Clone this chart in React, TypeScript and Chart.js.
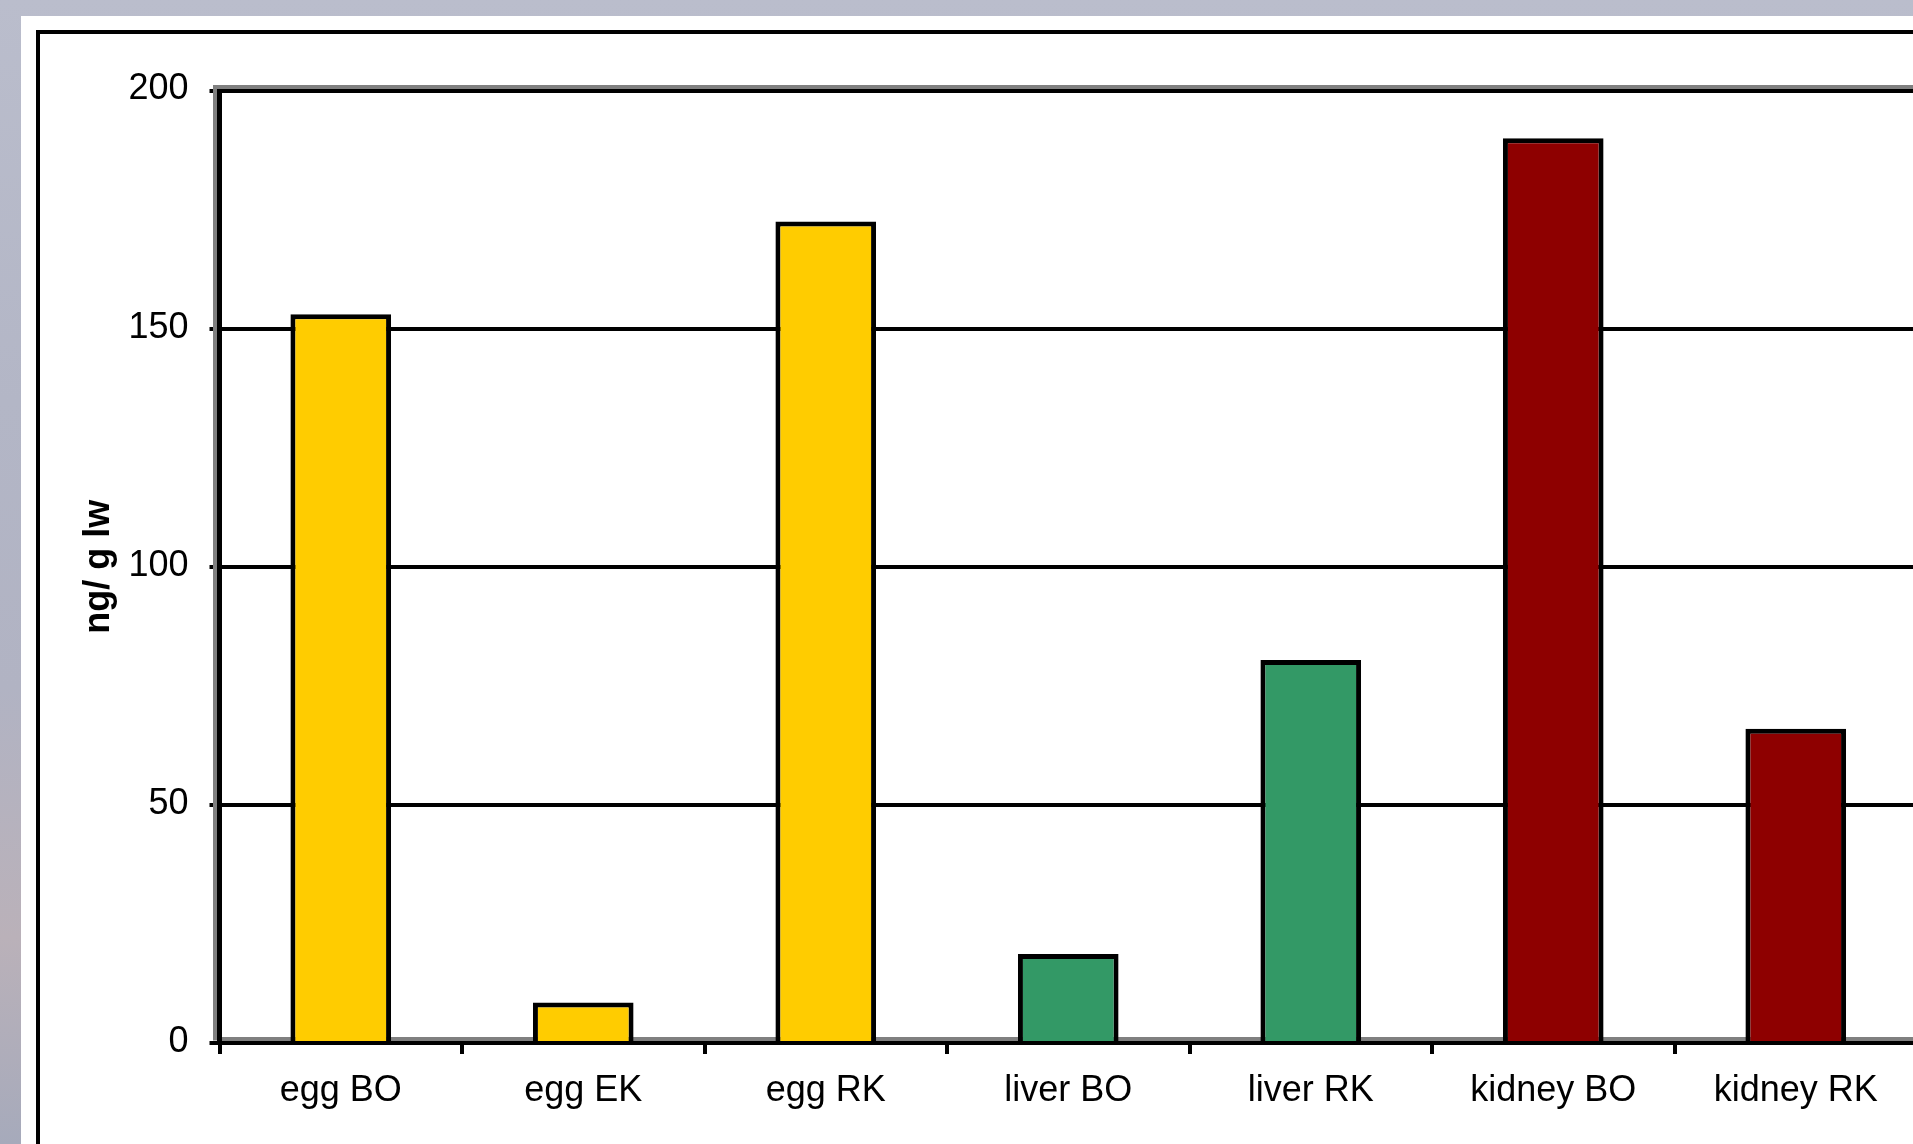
import React, { useEffect, useRef } from 'react';
import { Chart, registerables } from 'chart.js';

Chart.register(...registerables);

const categories = ['egg BO', 'egg EK', 'egg RK', 'liver BO', 'liver RK', 'kidney BO', 'kidney RK'];
const values = [153, 8.5, 172.5, 18.7, 80.4, 190, 66];
const barColors = ['#FFCC00', '#FFCC00', '#FFCC00', '#339966', '#339966', '#8E0000', '#8E0000'];
const yMin = 0;
const yMax = 200;
const yStep = 50;
const yTitle = 'ng/ g lw';

const CANVAS_W = 1960;
const CANVAS_H = 1144;

const shadowPlugin = {
  id: 'plotShadow',
  beforeDatasetsDraw(chart: any) {
    const { ctx, chartArea: a } = chart;
    ctx.save();
    ctx.fillStyle = '#808080';
    ctx.fillRect(a.left - 6.5, a.top - 5.5, a.right - a.left + 20, 4);
    ctx.fillRect(a.left - 6.5, a.top - 5.5, 4, a.bottom - a.top + 3);
    ctx.fillRect(a.left + 2.5, a.bottom - 6, a.right - a.left + 20, 4);
    ctx.restore();
  },
};

export default function App() {
  const canvasRef = useRef<HTMLCanvasElement | null>(null);

  useEffect(() => {
    const canvas = canvasRef.current;
    if (!canvas) return;
    Chart.defaults.font.family = '"Liberation Sans", Arial, sans-serif';
    Chart.defaults.color = '#000';
    const chart = new Chart(canvas, {
      type: 'bar',
      data: {
        labels: categories,
        datasets: [
          {
            data: values,
            backgroundColor: barColors,
            borderColor: '#000',
            borderWidth: 5,
            borderSkipped: 'start',
            categoryPercentage: 1,
            barPercentage: 0.415,
          },
        ],
      },
      plugins: [shadowPlugin],
      options: {
        responsive: false,
        animation: false,
        devicePixelRatio: 1,
        layout: { padding: { top: 90.5, right: 43, left: 0, bottom: 0 } },
        plugins: {
          legend: { display: false },
          tooltip: { enabled: false },
        },
        scales: {
          x: {
            grid: {
              display: true,
              offset: true,
              drawOnChartArea: false,
              drawTicks: true,
              tickLength: 11,
              tickWidth: 4,
              tickColor: '#000',
              color: '#000',
              lineWidth: 4,
            },
            border: { display: true, color: '#000', width: 4 },
            ticks: {
              font: { size: 36 },
              color: '#000',
              padding: 15,
              maxRotation: 0,
              autoSkip: false,
            },
            afterFit(scale: any) {
              scale.height = 101;
            },
          },
          y: {
            min: yMin,
            max: yMax,
            grid: {
              color: '#000',
              lineWidth: 4,
              drawTicks: true,
              tickLength: 10,
              tickWidth: 4,
              tickColor: '#000',
            },
            border: { display: true, color: '#000', width: 5 },
            ticks: {
              stepSize: yStep,
              font: { size: 36 },
              color: '#000',
              padding: 21,
              labelOffset: -1,
            },
            title: {
              display: true,
              text: yTitle,
              font: { size: 36, weight: 'bold' },
              color: '#000',
              padding: { top: 77, bottom: 0 },
            },
            afterFit(scale: any) {
              scale.width = 219.5;
            },
          },
        },
      },
    });
    return () => chart.destroy();
  }, []);

  return (
    <div
      style={{
        position: 'fixed',
        left: 0,
        top: 0,
        width: 1913,
        height: 1144,
        overflow: 'hidden',
        background:
          'linear-gradient(180deg, #babdcc 0%, #b3b6c6 35%, #b1b3c3 60%, #bab1b9 82%, #a6aabb 100%)',
      }}
    >
      <div
        style={{
          position: 'absolute',
          left: 21,
          top: 16,
          width: 2000,
          height: 2000,
          background: '#ffffff',
        }}
      />
      <div
        style={{
          position: 'absolute',
          left: 36,
          top: 30,
          width: 2000,
          height: 2000,
          border: '4px solid #000',
          boxSizing: 'border-box',
        }}
      />
      <canvas
        ref={canvasRef}
        width={CANVAS_W}
        height={CANVAS_H}
        style={{ position: 'absolute', left: 0, top: 0, width: CANVAS_W, height: CANVAS_H }}
      />
    </div>
  );
}
